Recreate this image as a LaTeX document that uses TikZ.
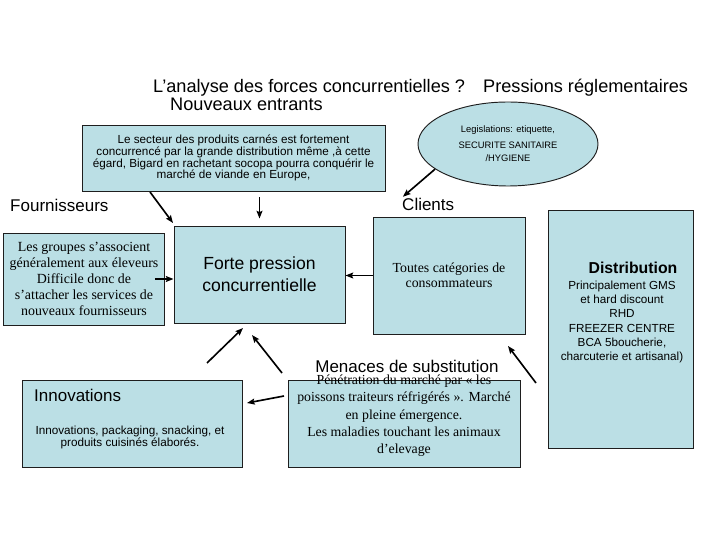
\documentclass[tikz,border=0pt]{standalone}
\usepackage{fontspec}
\setmainfont{Liberation Serif}
\setsansfont{Liberation Sans}
\usetikzlibrary{arrows.meta, shapes.geometric, calc}
\newlength\px
\setlength\px{0.03cm}
\definecolor{ink}{HTML}{000000}
\definecolor{panel}{HTML}{BBDFE5}
\definecolor{rule}{HTML}{1E1E1E}
\tikzset{
  font=\sffamily,
  >={Stealth[length=6.5pt, width=5pt, inset=1pt]},
  %
  box/.style={draw=rule, line width=0.8pt, fill=panel, inner sep=0pt,
              align=center, text=ink},
  %
  head/.style={font=\sffamily\fontsize{14.5}{17}\selectfont, inner sep=0pt,
               anchor=west, text=ink},
  titre/.style={head, font=\sffamily\fontsize{15.5}{18}\selectfont},
  txt/.style={font=\sffamily\fontsize{10}{11}\selectfont, align=center,
              inner sep=0pt, text=ink},
  serif/.style={font=\rmfamily\fontsize{11.8}{12.8}\selectfont, align=center,
                inner sep=0pt, text=ink},
  %
  arr/.style={draw=ink, line width=1.4pt, ->},
}

\begin{document}
\begin{tikzpicture}[x=0.03cm, y=-0.03cm]
  \useasboundingbox (0,0) rectangle (720,540);

  \node[titre] (analyse) at (153,88) {L’analyse des forces concurrentielles ?};
  \node[titre] (pressions) at (483,88) {Pressions réglementaires};
  \node[titre] (entrants) at (170,104) {Nouveaux entrants};

  % nouveaux entrants
  \node[box, txt, minimum width=303\px, minimum height=66\px,
        font=\sffamily\fontsize{10}{10.1}\selectfont] (secteur) at (233.5,158)
    {Le secteur des produits carnés est fortement\\concurrencé par la grande
     distribution même ,à cette\\égard, Bigard en rachetant socopa pourra
     conquérir le\\marché de viande en Europe,};

  % pressions reglementaires
  \node[box, ellipse, minimum width=180\px, minimum height=84\px,
        font=\sffamily\fontsize{8}{11}\selectfont] (legis) at (508,144)
    {Legislations: etiquette,\\[2.6pt]SECURITE SANITAIRE\\/HYGIENE};

  \node[head] (fourn) at (10,205) {Fournisseurs};
  \node[head] (clients) at (402,204) {Clients};

  \node[box, serif, minimum width=161\px, minimum height=92\px,
        font=\rmfamily\fontsize{11.9}{13.6}\selectfont] (supp) at (84,279)
    {Les groupes s’associent\\généralement aux éleveurs\\Difficile donc de\\
     s’attacher les services de\\nouveaux fournisseurs};

  \node[box, minimum width=171\px, minimum height=97\px, align=center,
        font=\sffamily\fontsize{15}{18.5}\selectfont] (force) at (259.5,274.5)
    {Forte pression\\concurrentielle};

  \node[box, serif, minimum width=152\px, minimum height=117\px] (cons)
    at (449,275.5) {Toutes catégories de\\consommateurs};

  % distribution
  \node[box, minimum width=145\px, minimum height=238\px] (distrib) at (620.5,329) {};
  \node[inner sep=0pt, font=\sffamily\bfseries\fontsize{13.5}{16}\selectfont]
    (distribtitre) at (633,268) {Distribution};
  \node[txt, font=\sffamily\fontsize{10}{12.2}\selectfont] (distribtxt) at (622,322)
    {Principalement GMS\\et hard discount\\RHD\\FREEZER CENTRE\\BCA 5boucherie,\\
     charcuterie et artisanal)};

  % substitution
  \node[head, anchor=center] (menaces) at (407,366) {Menaces de substitution};
  \node[box, minimum width=232\px, minimum height=87\px] (subst) at (404,423.5) {};
  \node[serif, font=\rmfamily\fontsize{11.8}{14.8}\selectfont] (substtxt) at (404,416)
    {Pénétration du marché par « les\\poissons traiteurs réfrigérés ». Marché\\
     en pleine émergence.\\Les maladies touchant les animaux\\d’elevage};

  % innovations
  \node[box, minimum width=220\px, minimum height=87\px] (innov) at (132,423.5) {};
  \node[head] (innovtitre) at (34,395) {Innovations};
  \node[txt, font=\sffamily\fontsize{10}{11}\selectfont] (innovtxt) at (130,437.5)
    {Innovations, packaging, snacking, et\\produits cuisinés élaborés.};

  % arrows towards the pressure box
  \coordinate (entrA) at (150,192);
  \coordinate (entrB) at (173,223);
  \coordinate (innovA) at (207,363);
  \coordinate (innovB) at (243,328);
  \coordinate (substA) at (282,373);
  \coordinate (substB) at (252,335);
  \coordinate (gaucheA) at (284,396);
  \coordinate (gaucheB) at (247,403);
  \coordinate (distA) at (536,383);
  \coordinate (distB) at (508,346);

  \draw[arr] (entrA) -- (entrB);
  \draw[arr, shorten <=6\px, shorten >=7\px] (force.north |- secteur.south) -- (force.north);
  \draw[arr, shorten >=1pt] (legis.199) -- (clients.north west);
  \draw[arr] ([xshift=-10\px]supp.east) -- (supp.east -| force.west);
  \draw[arr] (cons.west) -- (cons.west -| force.east);
  \draw[arr] (innovA) -- (innovB);
  \draw[arr] (substA) -- (substB);
  \draw[arr] (gaucheA) -- (gaucheB);
  \draw[arr] (distA) -- (distB);

\end{tikzpicture}
\end{document}
